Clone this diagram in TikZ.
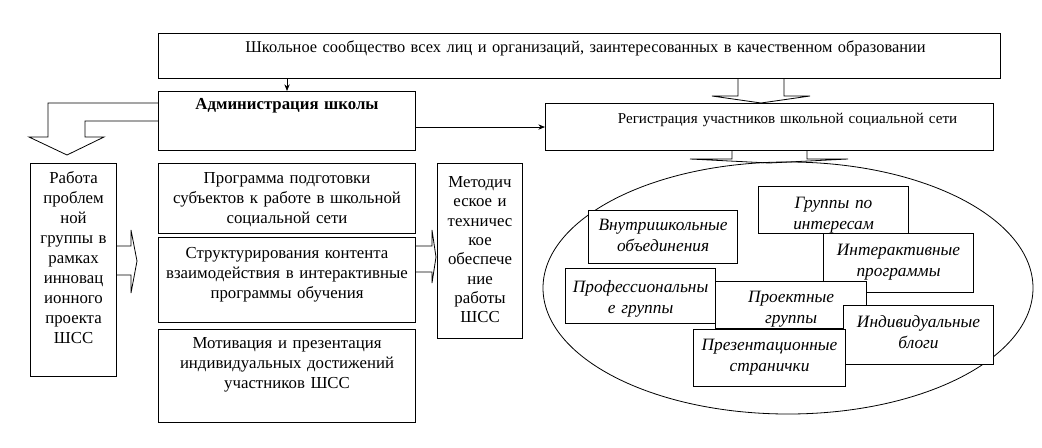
\documentclass[tikz,border=0pt]{standalone}
\usepackage{fontspec}
\setmainfont{Liberation Serif}
\usetikzlibrary{arrows.meta,shapes.geometric}
\tikzset{
  blk/.style={draw, line width=0.8pt, fill=white, inner sep=0pt, align=center,
    anchor=north west, font=\fontsize{12.6}{15}\selectfont},
  grp/.style={blk, font=\fontsize{13}{16}\selectfont\itshape},
  fat/.style={draw, line width=0.6pt, line join=miter},
  arr/.style={draw, line width=0.6pt, -{Stealth[length=5pt,width=4pt]}}
}
\begin{document}
\begin{tikzpicture}[x=0.75pt,y=-0.75pt]
  \useasboundingbox (0,0) rectangle (1042,447);
  % upper row
  \node[blk, text width=631.5pt, text height=14.25pt, text depth=19.5pt,
    font=\fontsize{12.3}{15}\selectfont] (top) at (158,33)
    {\hspace*{9pt}Школьное сообщество всех лиц и организаций, заинтересованных в качественном образовании};
  \node[blk, text width=192.75pt, text height=13.5pt, text depth=30.75pt] (admin) at (158,91)
    {\textbf{Администрация школы}};
  \node[blk, text width=336pt, text height=15pt, text depth=20.25pt,
    font=\fontsize{11.3}{15}\selectfont] (reg) at (545,103)
    {\hspace*{27pt}Регистрация участников школьной социальной сети};
  % left part
  \node[blk, text width=64.5pt, text height=15pt, text depth=144.75pt] (work) at (30,163)
    {Работа\\ проблем\\ ной\\ группы в\\ рамках\\ инновац\\ ионного\\ проекта\\ ШСС};
  \node[blk, text width=192.75pt, text height=15pt, text depth=37.5pt] (prog) at (158,163)
    {Программа подготовки\\ субъектов к работе в школьной\\ социальной сети};
  \node[blk, text width=192.75pt, text height=15.75pt, text depth=48pt] (struct) at (158,237)
    {Структурирования контента\\ взаимодействия в интерактивные\\ программы обучения};
  \node[blk, text width=192.75pt, text height=14.25pt, text depth=55.5pt] (motiv) at (158,329)
    {Мотивация и презентация\\ индивидуальных достижений\\ участников ШСС};
  \node[blk, text width=63.75pt, text height=18pt, text depth=113.25pt,
    font=\fontsize{12.6}{14.5}\selectfont] (method) at (437,163)
    {Методич\\ еское и\\ техничес\\ кое\\ обеспече\\ ние\\ работы\\ ШСС};
  % network
  \node[ellipse, draw, line width=0.6pt, minimum width=367.5pt, minimum height=189pt,
    inner sep=0pt] (net) at (788,288) {};
  \node[grp, text width=111.75pt, text height=15pt, text depth=24.75pt] (inner) at (588,210)
    {Внутришкольные\\ объединения};
  \node[grp, text width=112.5pt, text height=16.5pt, text depth=18.75pt] (interest) at (758,186)
    {Группы по\\ интересам};
  \node[grp, text width=112.5pt, text height=16.5pt, text depth=27.75pt] (interact) at (823,233)
    {Интерактивные\\ программы};
  \node[grp, text width=112.5pt, text height=18pt, text depth=23.25pt] (prof) at (565,268)
    {Профессиональны\\ е группы};
  \node[grp, text width=113.25pt, text height=15.75pt, text depth=19.5pt] (project) at (715,281)
    {Проектные\\ группы};
  \node[grp, text width=112.5pt, text height=16.5pt, text depth=27.75pt] (blog) at (843,305)
    {Индивидуальные\\ блоги};
  \node[grp, text width=114pt, text height=15.75pt, text depth=27pt] (present) at (693,329)
    {Презентационные\\ странички};
  % links
  \draw[arr] (admin.north |- top.south) -- (admin.north);
  \draw[arr] (admin.east |- reg.west) -- (reg.west);
  % block arrows
  \draw[fat] (738,78) -- (738,96) -- (712,96) -- (761,103) -- (810,96) -- (784,96) -- (784,78);
  \draw[fat] (732,150) -- (732,159) -- (690,159) -- (769,163) -- (848,159) -- (807,159) -- (807,150);
  \draw[fat] (158,103) -- (48,103) -- (48,137) -- (29,137) -- (67,155) -- (104,137)
    -- (85,137) -- (85,121) -- (158,121);
  \draw[fat] (116,246) -- (131,246) -- (131,230) -- (137,261) -- (131,293) -- (131,275) -- (116,275);
  \draw[fat] (415,246) -- (432,246) -- (432,230) -- (436,257) -- (432,283) -- (432,272) -- (415,272);
\end{tikzpicture}
\end{document}
